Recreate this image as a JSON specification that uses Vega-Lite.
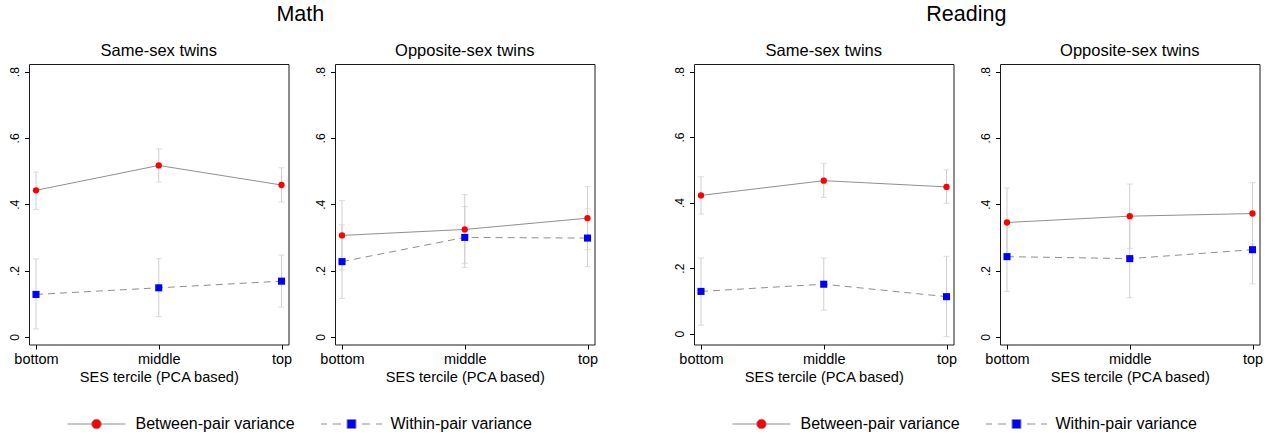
{
  "$schema": "https://vega.github.io/schema/vega-lite/v6.json",
  "padding": {"left": 8, "top": 3, "right": 5, "bottom": 5},
  "background": "white",
  "data": {"values": [
    {"subject":"Math","twin":"Same-sex twins","level":"bottom","series":"Between-pair variance","value":0.442,"lo":0.384,"hi":0.497},
    {"subject":"Math","twin":"Same-sex twins","level":"middle","series":"Between-pair variance","value":0.517,"lo":0.467,"hi":0.567},
    {"subject":"Math","twin":"Same-sex twins","level":"top","series":"Between-pair variance","value":0.458,"lo":0.407,"hi":0.510},
    {"subject":"Math","twin":"Same-sex twins","level":"bottom","series":"Within-pair variance","value":0.128,"lo":0.024,"hi":0.235},
    {"subject":"Math","twin":"Same-sex twins","level":"middle","series":"Within-pair variance","value":0.148,"lo":0.061,"hi":0.236},
    {"subject":"Math","twin":"Same-sex twins","level":"top","series":"Within-pair variance","value":0.168,"lo":0.090,"hi":0.247},
    {"subject":"Math","twin":"Opposite-sex twins","level":"bottom","series":"Between-pair variance","value":0.306,"lo":0.202,"hi":0.411},
    {"subject":"Math","twin":"Opposite-sex twins","level":"middle","series":"Between-pair variance","value":0.324,"lo":0.222,"hi":0.429},
    {"subject":"Math","twin":"Opposite-sex twins","level":"top","series":"Between-pair variance","value":0.358,"lo":0.263,"hi":0.453},
    {"subject":"Math","twin":"Opposite-sex twins","level":"bottom","series":"Within-pair variance","value":0.227,"lo":0.116,"hi":0.338},
    {"subject":"Math","twin":"Opposite-sex twins","level":"middle","series":"Within-pair variance","value":0.300,"lo":0.209,"hi":0.393},
    {"subject":"Math","twin":"Opposite-sex twins","level":"top","series":"Within-pair variance","value":0.298,"lo":0.212,"hi":0.386},
    {"subject":"Reading","twin":"Same-sex twins","level":"bottom","series":"Between-pair variance","value":0.422,"lo":0.365,"hi":0.479},
    {"subject":"Reading","twin":"Same-sex twins","level":"middle","series":"Between-pair variance","value":0.467,"lo":0.416,"hi":0.519},
    {"subject":"Reading","twin":"Same-sex twins","level":"top","series":"Between-pair variance","value":0.448,"lo":0.398,"hi":0.500},
    {"subject":"Reading","twin":"Same-sex twins","level":"bottom","series":"Within-pair variance","value":0.129,"lo":0.026,"hi":0.231},
    {"subject":"Reading","twin":"Same-sex twins","level":"middle","series":"Within-pair variance","value":0.151,"lo":0.072,"hi":0.231},
    {"subject":"Reading","twin":"Same-sex twins","level":"top","series":"Within-pair variance","value":0.113,"lo":-0.009,"hi":0.236},
    {"subject":"Reading","twin":"Opposite-sex twins","level":"bottom","series":"Between-pair variance","value":0.345,"lo":0.241,"hi":0.449},
    {"subject":"Reading","twin":"Opposite-sex twins","level":"middle","series":"Between-pair variance","value":0.364,"lo":0.267,"hi":0.461},
    {"subject":"Reading","twin":"Opposite-sex twins","level":"top","series":"Between-pair variance","value":0.372,"lo":0.280,"hi":0.466},
    {"subject":"Reading","twin":"Opposite-sex twins","level":"bottom","series":"Within-pair variance","value":0.242,"lo":0.137,"hi":0.346},
    {"subject":"Reading","twin":"Opposite-sex twins","level":"middle","series":"Within-pair variance","value":0.236,"lo":0.118,"hi":0.354},
    {"subject":"Reading","twin":"Opposite-sex twins","level":"top","series":"Within-pair variance","value":0.263,"lo":0.160,"hi":0.367}
  ]},
  "spacing": 68,
  "resolve": {"scale": {"color": "independent", "shape": "independent"}, "legend": {"color": "independent", "shape": "independent"}},
  "hconcat": [
    {
      "title": {"text": "Math", "fontSize": 21.5, "anchor": "middle", "offset": 17, "dx": -6},
      "transform": [{"filter": "datum.subject == 'Math'"}],
      "spacing": 15,
      "hconcat": [
        {
          "width": 259.5, "height": 280.5,
          "title": {"text": "Same-sex twins", "fontSize": 16.5, "anchor": "middle", "frame": "group", "offset": 5},
          "transform": [{"filter": "datum.twin == 'Same-sex twins'"}],
          "encoding": {"x": {"field": "level", "type": "ordinal", "sort": ["bottom", "middle", "top"], "scale": {"type": "point", "padding": 0.057}, "title": "SES tercile (PCA based)"}},
          "layer": [
            {"mark": {"type": "rule", "color": "#cfcfcf", "strokeWidth": 1}, "encoding": {"y": {"field": "lo", "type": "quantitative", "title": null, "scale": {"domain": [-0.023, 0.823], "nice": false, "zero": false}, "axis": {"values": [0, 0.2, 0.4, 0.6, 0.8], "labelExpr": "datum.value == 0 ? '0' : '.' + round(datum.value * 10)"}}, "y2": {"field": "hi"}}},
            {"mark": {"type": "tick", "color": "#cfcfcf", "size": 6, "thickness": 1}, "encoding": {"y": {"field": "lo", "type": "quantitative", "title": null}}},
            {"mark": {"type": "tick", "color": "#cfcfcf", "size": 6, "thickness": 1}, "encoding": {"y": {"field": "hi", "type": "quantitative", "title": null}}},
            {"transform": [{"filter": "datum.series == 'Between-pair variance'"}], "mark": {"type": "line", "color": "#8f8f8f", "strokeWidth": 1}, "encoding": {"y": {"field": "value", "type": "quantitative", "title": null}}},
            {"transform": [{"filter": "datum.series == 'Within-pair variance'"}], "mark": {"type": "line", "color": "#8f8f8f", "strokeWidth": 1, "strokeDash": [7, 5]}, "encoding": {"y": {"field": "value", "type": "quantitative", "title": null}}},
            {"transform": [{"filter": "datum.series == 'Between-pair variance'"}], "mark": {"type": "point", "shape": "circle", "filled": true, "size": 40, "opacity": 1, "color": "#ff0000"}, "encoding": {"y": {"field": "value", "type": "quantitative", "title": null}}},
            {"transform": [{"filter": "datum.series == 'Within-pair variance'"}], "mark": {"type": "point", "shape": "square", "filled": true, "size": 50, "opacity": 1, "color": "#0000ff"}, "encoding": {"y": {"field": "value", "type": "quantitative", "title": null}}},
            {"mark": {"type": "point", "filled": true, "opacity": 0}, "encoding": {"y": {"field": "value", "type": "quantitative", "title": null}, "color": {"field": "series", "type": "nominal", "scale": {"domain": ["Between-pair variance", "Within-pair variance"], "range": ["#ff0000", "#0000ff"]}, "legend": {"title": " ", "encode": {"symbols": {"update": {"stroke": {"value": "#8f8f8f"}, "strokeWidth": {"value": 1}, "opacity": {"value": 1}}}}}}, "shape": {"field": "series", "type": "nominal", "scale": {"domain": ["Between-pair variance", "Within-pair variance"], "range": ["M-5.8,0L-0.9,0M0.9,0L5.8,0M0.96,0A0.96,0.96,0,1,1,-0.96,0A0.96,0.96,0,1,1,0.96,0Z", "M-6.1,0L-4.9,0M-3.76,0L-2.1,0M2.1,0L3.76,0M4.9,0L6.1,0M-0.9,-0.9L0.9,-0.9L0.9,0.9L-0.9,0.9Z"]}, "legend": {"title": " "}}}}
          ]
        },
        {
          "width": 259.5, "height": 280.5,
          "title": {"text": "Opposite-sex twins", "fontSize": 16.5, "anchor": "middle", "frame": "group", "offset": 5},
          "transform": [{"filter": "datum.twin == 'Opposite-sex twins'"}],
          "encoding": {"x": {"field": "level", "type": "ordinal", "sort": ["bottom", "middle", "top"], "scale": {"type": "point", "padding": 0.057}, "title": "SES tercile (PCA based)"}},
          "layer": [
            {"mark": {"type": "rule", "color": "#cfcfcf", "strokeWidth": 1}, "encoding": {"y": {"field": "lo", "type": "quantitative", "title": null, "scale": {"domain": [-0.023, 0.823], "nice": false, "zero": false}, "axis": {"values": [0, 0.2, 0.4, 0.6, 0.8], "labelExpr": "datum.value == 0 ? '0' : '.' + round(datum.value * 10)"}}, "y2": {"field": "hi"}}},
            {"mark": {"type": "tick", "color": "#cfcfcf", "size": 6, "thickness": 1}, "encoding": {"y": {"field": "lo", "type": "quantitative", "title": null}}},
            {"mark": {"type": "tick", "color": "#cfcfcf", "size": 6, "thickness": 1}, "encoding": {"y": {"field": "hi", "type": "quantitative", "title": null}}},
            {"transform": [{"filter": "datum.series == 'Between-pair variance'"}], "mark": {"type": "line", "color": "#8f8f8f", "strokeWidth": 1}, "encoding": {"y": {"field": "value", "type": "quantitative", "title": null}}},
            {"transform": [{"filter": "datum.series == 'Within-pair variance'"}], "mark": {"type": "line", "color": "#8f8f8f", "strokeWidth": 1, "strokeDash": [7, 5]}, "encoding": {"y": {"field": "value", "type": "quantitative", "title": null}}},
            {"transform": [{"filter": "datum.series == 'Between-pair variance'"}], "mark": {"type": "point", "shape": "circle", "filled": true, "size": 40, "opacity": 1, "color": "#ff0000"}, "encoding": {"y": {"field": "value", "type": "quantitative", "title": null}}},
            {"transform": [{"filter": "datum.series == 'Within-pair variance'"}], "mark": {"type": "point", "shape": "square", "filled": true, "size": 50, "opacity": 1, "color": "#0000ff"}, "encoding": {"y": {"field": "value", "type": "quantitative", "title": null}}},
            {"mark": {"type": "point", "filled": true, "opacity": 0}, "encoding": {"y": {"field": "value", "type": "quantitative", "title": null}, "color": {"field": "series", "type": "nominal", "scale": {"domain": ["Between-pair variance", "Within-pair variance"], "range": ["#ff0000", "#0000ff"]}, "legend": {"title": " ", "encode": {"symbols": {"update": {"stroke": {"value": "#8f8f8f"}, "strokeWidth": {"value": 1}, "opacity": {"value": 1}}}}}}, "shape": {"field": "series", "type": "nominal", "scale": {"domain": ["Between-pair variance", "Within-pair variance"], "range": ["M-5.8,0L-0.9,0M0.9,0L5.8,0M0.96,0A0.96,0.96,0,1,1,-0.96,0A0.96,0.96,0,1,1,0.96,0Z", "M-6.1,0L-4.9,0M-3.76,0L-2.1,0M2.1,0L3.76,0M4.9,0L6.1,0M-0.9,-0.9L0.9,-0.9L0.9,0.9L-0.9,0.9Z"]}, "legend": {"title": " "}}}}
          ]
        }
      ]
    },
    {
      "title": {"text": "Reading", "fontSize": 21.5, "anchor": "middle", "offset": 17, "dx": -5},
      "transform": [{"filter": "datum.subject == 'Reading'"}],
      "spacing": 15,
      "hconcat": [
        {
          "width": 259.5, "height": 280.5,
          "title": {"text": "Same-sex twins", "fontSize": 16.5, "anchor": "middle", "frame": "group", "offset": 5},
          "transform": [{"filter": "datum.twin == 'Same-sex twins'"}],
          "encoding": {"x": {"field": "level", "type": "ordinal", "sort": ["bottom", "middle", "top"], "scale": {"type": "point", "padding": 0.057}, "title": "SES tercile (PCA based)"}},
          "layer": [
            {"mark": {"type": "rule", "color": "#cfcfcf", "strokeWidth": 1}, "encoding": {"y": {"field": "lo", "type": "quantitative", "title": null, "scale": {"domain": [-0.033, 0.823], "nice": false, "zero": false}, "axis": {"values": [0, 0.2, 0.4, 0.6, 0.8], "labelExpr": "datum.value == 0 ? '0' : '.' + round(datum.value * 10)"}}, "y2": {"field": "hi"}}},
            {"mark": {"type": "tick", "color": "#cfcfcf", "size": 6, "thickness": 1}, "encoding": {"y": {"field": "lo", "type": "quantitative", "title": null}}},
            {"mark": {"type": "tick", "color": "#cfcfcf", "size": 6, "thickness": 1}, "encoding": {"y": {"field": "hi", "type": "quantitative", "title": null}}},
            {"transform": [{"filter": "datum.series == 'Between-pair variance'"}], "mark": {"type": "line", "color": "#8f8f8f", "strokeWidth": 1}, "encoding": {"y": {"field": "value", "type": "quantitative", "title": null}}},
            {"transform": [{"filter": "datum.series == 'Within-pair variance'"}], "mark": {"type": "line", "color": "#8f8f8f", "strokeWidth": 1, "strokeDash": [7, 5]}, "encoding": {"y": {"field": "value", "type": "quantitative", "title": null}}},
            {"transform": [{"filter": "datum.series == 'Between-pair variance'"}], "mark": {"type": "point", "shape": "circle", "filled": true, "size": 40, "opacity": 1, "color": "#ff0000"}, "encoding": {"y": {"field": "value", "type": "quantitative", "title": null}}},
            {"transform": [{"filter": "datum.series == 'Within-pair variance'"}], "mark": {"type": "point", "shape": "square", "filled": true, "size": 50, "opacity": 1, "color": "#0000ff"}, "encoding": {"y": {"field": "value", "type": "quantitative", "title": null}}},
            {"mark": {"type": "point", "filled": true, "opacity": 0}, "encoding": {"y": {"field": "value", "type": "quantitative", "title": null}, "color": {"field": "series", "type": "nominal", "scale": {"domain": ["Between-pair variance", "Within-pair variance"], "range": ["#ff0000", "#0000ff"]}, "legend": {"title": " ", "encode": {"symbols": {"update": {"stroke": {"value": "#8f8f8f"}, "strokeWidth": {"value": 1}, "opacity": {"value": 1}}}}}}, "shape": {"field": "series", "type": "nominal", "scale": {"domain": ["Between-pair variance", "Within-pair variance"], "range": ["M-5.8,0L-0.9,0M0.9,0L5.8,0M0.96,0A0.96,0.96,0,1,1,-0.96,0A0.96,0.96,0,1,1,0.96,0Z", "M-6.1,0L-4.9,0M-3.76,0L-2.1,0M2.1,0L3.76,0M4.9,0L6.1,0M-0.9,-0.9L0.9,-0.9L0.9,0.9L-0.9,0.9Z"]}, "legend": {"title": " "}}}}
          ]
        },
        {
          "width": 259.5, "height": 280.5,
          "title": {"text": "Opposite-sex twins", "fontSize": 16.5, "anchor": "middle", "frame": "group", "offset": 5},
          "transform": [{"filter": "datum.twin == 'Opposite-sex twins'"}],
          "encoding": {"x": {"field": "level", "type": "ordinal", "sort": ["bottom", "middle", "top"], "scale": {"type": "point", "padding": 0.057}, "title": "SES tercile (PCA based)"}},
          "layer": [
            {"mark": {"type": "rule", "color": "#cfcfcf", "strokeWidth": 1}, "encoding": {"y": {"field": "lo", "type": "quantitative", "title": null, "scale": {"domain": [-0.023, 0.823], "nice": false, "zero": false}, "axis": {"values": [0, 0.2, 0.4, 0.6, 0.8], "labelExpr": "datum.value == 0 ? '0' : '.' + round(datum.value * 10)"}}, "y2": {"field": "hi"}}},
            {"mark": {"type": "tick", "color": "#cfcfcf", "size": 6, "thickness": 1}, "encoding": {"y": {"field": "lo", "type": "quantitative", "title": null}}},
            {"mark": {"type": "tick", "color": "#cfcfcf", "size": 6, "thickness": 1}, "encoding": {"y": {"field": "hi", "type": "quantitative", "title": null}}},
            {"transform": [{"filter": "datum.series == 'Between-pair variance'"}], "mark": {"type": "line", "color": "#8f8f8f", "strokeWidth": 1}, "encoding": {"y": {"field": "value", "type": "quantitative", "title": null}}},
            {"transform": [{"filter": "datum.series == 'Within-pair variance'"}], "mark": {"type": "line", "color": "#8f8f8f", "strokeWidth": 1, "strokeDash": [7, 5]}, "encoding": {"y": {"field": "value", "type": "quantitative", "title": null}}},
            {"transform": [{"filter": "datum.series == 'Between-pair variance'"}], "mark": {"type": "point", "shape": "circle", "filled": true, "size": 40, "opacity": 1, "color": "#ff0000"}, "encoding": {"y": {"field": "value", "type": "quantitative", "title": null}}},
            {"transform": [{"filter": "datum.series == 'Within-pair variance'"}], "mark": {"type": "point", "shape": "square", "filled": true, "size": 50, "opacity": 1, "color": "#0000ff"}, "encoding": {"y": {"field": "value", "type": "quantitative", "title": null}}},
            {"mark": {"type": "point", "filled": true, "opacity": 0}, "encoding": {"y": {"field": "value", "type": "quantitative", "title": null}, "color": {"field": "series", "type": "nominal", "scale": {"domain": ["Between-pair variance", "Within-pair variance"], "range": ["#ff0000", "#0000ff"]}, "legend": {"title": " ", "encode": {"symbols": {"update": {"stroke": {"value": "#8f8f8f"}, "strokeWidth": {"value": 1}, "opacity": {"value": 1}}}}}}, "shape": {"field": "series", "type": "nominal", "scale": {"domain": ["Between-pair variance", "Within-pair variance"], "range": ["M-5.8,0L-0.9,0M0.9,0L5.8,0M0.96,0A0.96,0.96,0,1,1,-0.96,0A0.96,0.96,0,1,1,0.96,0Z", "M-6.1,0L-4.9,0M-3.76,0L-2.1,0M2.1,0L3.76,0M4.9,0L6.1,0M-0.9,-0.9L0.9,-0.9L0.9,0.9L-0.9,0.9Z"]}, "legend": {"title": " "}}}}
          ]
        }
      ]
    }
  ],
  "config": {
    "font": "Liberation Sans",
    "view": {"stroke": "#1a1a1a", "strokeWidth": 1},
    "axis": {"grid": false, "domain": false, "ticks": true, "tickColor": "#000", "tickSize": 4.5, "labelColor": "#000", "titleColor": "#000", "labelPadding": 3, "titleFontWeight": "normal", "labelFont": "Liberation Sans", "titleFont": "Liberation Sans"},
    "axisX": {"labelFontSize": 14.5, "titleFontSize": 14.6, "titlePadding": 4, "labelAngle": 0},
    "axisY": {"labelFontSize": 12, "labelAngle": 270},
    "title": {"font": "Liberation Sans", "fontWeight": "normal", "color": "#000"},
    "legend": {"orient": "bottom", "direction": "horizontal", "symbolSize": 100, "symbolOffset": 23.5, "labelOffset": 31, "labelFontSize": 16, "labelFont": "Liberation Sans", "labelColor": "#000", "symbolStrokeColor": "#8f8f8f", "symbolStrokeWidth": 1, "symbolOpacity": 1, "columnPadding": 24, "offset": 31, "titleOrient": "right", "titlePadding": 15, "titleFontSize": 16, "layout": {"bottom": {"anchor": "middle"}}}
  }
}
